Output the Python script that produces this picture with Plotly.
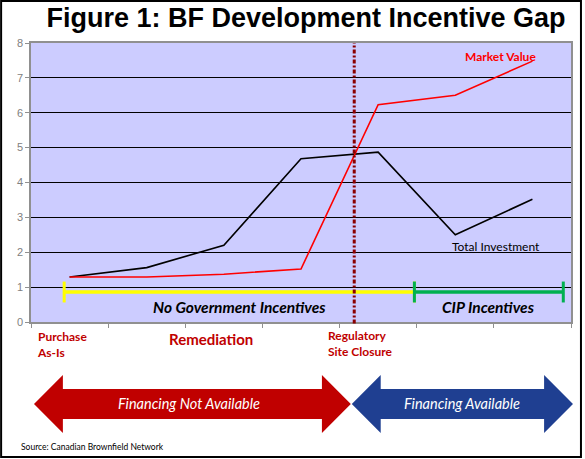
import plotly.graph_objects as go

# ---------------- data ----------------
stages = ["S1", "S2", "S3", "S4", "S5", "S6", "S7"]
total_investment = [1.29, 1.56, 2.2, 4.68, 4.87, 2.5, 3.52]
market_value = [1.29, 1.29, 1.37, 1.52, 6.23, 6.5, 7.48]
y_ticks = [0, 1, 2, 3, 4, 5, 6, 7, 8]

incentive_labels = ["No Government Incentives", "CIP Incentives"]
incentive_start = [-0.07, 4.47]
incentive_end = [4.47, 6.4]
incentive_level = [0.86, 0.86]
incentive_colors = ["#FFFF00", "#00B050"]

closure_x = 3.69  # where market value crosses total investment

# ---------------- layout constants ----------------
W, H = 585, 459
L, R, T, B = 31, 12, 43, 137
PW, PH = W - L - R, H - T - B
FONT = "Lato, Open Sans, sans-serif"
DARKRED = "#C00000"


def px(x):
    return (x - L) / PW


def py(y):
    return (H - B - y) / PH


fig = go.Figure()

fig.add_trace(go.Scatter(x=stages, y=total_investment, mode="lines",
                         line=dict(color="black", width=1.6), showlegend=False,
                         hoverinfo="skip"))
fig.add_trace(go.Scatter(x=stages, y=market_value, mode="lines",
                         line=dict(color="#FF0000", width=1.6), showlegend=False,
                         hoverinfo="skip"))

shapes = []
annotations = []


def note(x, y, text, size, color, xanchor="center", align="center", bold=False,
         italic=False, ref="paper"):
    if bold:
        text = f"<b>{text}</b>"
    if italic:
        text = f"<i>{text}</i>"
    annotations.append(dict(x=x, y=y, xref="paper" if ref == "paper" else "x",
                            yref="paper" if ref == "paper" else "y",
                            xanchor=xanchor, yanchor="middle", align=align,
                            text=text, showarrow=False,
                            font=dict(family=FONT, size=size, color=color)))


# incentive bars with end caps
for lab, x0, x1, lev, col in zip(incentive_labels, incentive_start, incentive_end,
                                 incentive_level, incentive_colors):
    shapes.append(dict(type="line", xref="x", yref="y", x0=x0, x1=x1, y0=lev, y1=lev,
                       line=dict(color=col, width=3.5)))
    for xe in (x0, x1):
        shapes.append(dict(type="line", xref="x", yref="y", x0=xe, x1=xe,
                           y0=lev - 0.3, y1=lev + 0.3, line=dict(color=col, width=3)))
    note((x0 + x1) / 2, lev - 0.44, lab, 15.5, "black", bold=True, italic=True, ref="data")

# regulatory closure vertical line
shapes.append(dict(type="line", xref="x", yref="paper", x0=closure_x, x1=closure_x,
                   y0=-0.005, y1=1, line=dict(color="#8B0000", width=3,
                                              dash="4px,2px,2px,2px")))

# series labels
note(5.59, 7.62, "Market Value", 12, "#FF0000", bold=True, ref="data")
note(5.53, 2.16, "Total Investment", 12, "black", ref="data")

# stage labels below the axis
note(px(35), py(344), "Purchase<br>As-Is", 12, DARKRED, xanchor="left", align="left",
     bold=True)
note(px(212), py(339), "Remediation", 15, DARKRED, bold=True)
note(px(327), py(343), "Regulatory<br>Site Closure", 12, DARKRED, xanchor="left",
     align="left", bold=True)


def arrow_path(xl, xr, head, yc, shaft_h, head_h):
    pts = [(xl, yc), (xl + head, yc - head_h), (xl + head, yc - shaft_h),
           (xr - head, yc - shaft_h), (xr - head, yc - head_h), (xr, yc),
           (xr - head, yc + head_h), (xr - head, yc + shaft_h),
           (xl + head, yc + shaft_h), (xl + head, yc + head_h)]
    return "M " + " L ".join(f"{px(a):.5f},{py(b):.5f}" for a, b in pts) + " Z"


shapes.append(dict(type="path", xref="paper", yref="paper",
                   path=arrow_path(34, 352, 29, 404, 15, 29),
                   fillcolor=DARKRED, line=dict(width=0)))
shapes.append(dict(type="path", xref="paper", yref="paper",
                   path=arrow_path(353, 575, 29, 404, 15, 29),
                   fillcolor="#1F3F91", line=dict(width=0)))
note(px(190), py(404), "Financing Not Available", 14.5, "white", italic=True)
note(px(464), py(404), "Financing Available", 14.5, "white", italic=True)

note(px(19), py(447), "Source: Canadian Brownfield Network", 8.5, "black",
     xanchor="left")

# outer border
shapes.append(dict(type="rect", xref="paper", yref="paper", x0=px(1), x1=px(583),
                   y0=py(457), y1=py(1), line=dict(color="black", width=2),
                   layer="below"))

fig.update_layout(
    width=W, height=H,
    margin=dict(l=L, r=R, t=T, b=B),
    paper_bgcolor="white",
    plot_bgcolor="#CCCCFF",
    title=dict(text="<b>Figure 1: BF Development Incentive Gap</b>",
               x=306 / W, xanchor="center", y=1 - 18 / H, yanchor="middle",
               font=dict(family="Liberation Sans, Arial, sans-serif", size=27,
                         color="black")),
    xaxis=dict(type="category", range=[-0.5, 6.5], showticklabels=False,
               showgrid=False, tickson="boundaries", ticks="outside", ticklen=4,
               tickcolor="#909090", showline=True, linecolor="#909090", linewidth=1.5,
               mirror=True, zeroline=False),
    yaxis=dict(range=[0, 8], tickvals=y_ticks, ticks="outside", ticklen=4,
               tickcolor="#909090", showline=True, linecolor="#909090", linewidth=1.5,
               mirror=True, showgrid=True, gridcolor="black", gridwidth=1,
               zeroline=False,
               tickfont=dict(family="Liberation Sans, Arial, sans-serif", size=11,
                             color="#808080")),
    shapes=shapes,
    annotations=annotations,
)

fig.write_html("out.html", config={"displayModeBar": False},
               post_script="document.body.style.margin='0';"
                           "document.body.style.overflow='hidden';")
